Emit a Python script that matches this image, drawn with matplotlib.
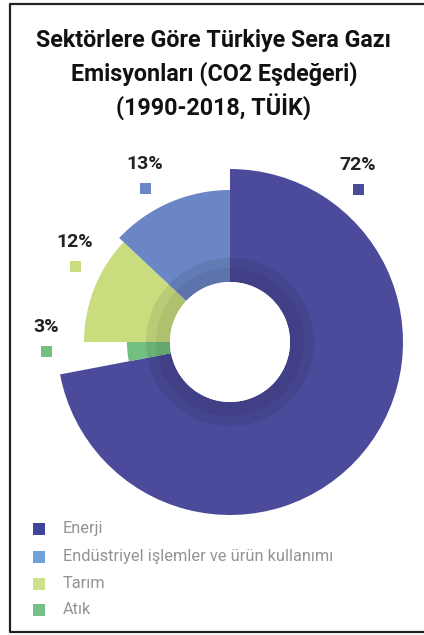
import matplotlib
matplotlib.use("Agg")
import matplotlib.pyplot as plt
from matplotlib.patches import Wedge, Rectangle, Circle

# ---- data ----
sectors = ["Enerji", "Endüstriyel işlemler ve ürün kullanımı", "Tarım", "Atık"]
shares = [72, 13, 12, 3]
pct_labels = ["72%", "13%", "12%", "3%"]
title_lines = ["Sektörlere Göre Türkiye Sera Gazı",
               "Emisyonları (CO2 Eşdeğeri)",
               "(1990-2018, TÜİK)"]

# ---- style / layout ----
colors = ["#4b4a9b", "#6a86c5", "#c9dd7f", "#72bf80"]
legend_colors = ["#3f4699", "#6ea3d9", "#cfe08a", "#77c08a"]
outer_r = [173, 152, 146, 103]
hole_r = 60
W, H = 424, 635
cx, cy = 230, H - 342
label_pos = [(358, 165), (145, 164), (75, 242), (46, 327)]
title_y = [41, 74, 107]
order_cw = [0, 3, 2, 1]  # clockwise from 12 o'clock: Enerji, Atık, Tarım, Endüstriyel
tfam = ["Roboto", "DejaVu Sans"]

fig = plt.figure(figsize=(W / 100, H / 100), dpi=100)
ax = fig.add_axes([0, 0, 1, 1])
ax.set_xlim(0, W)
ax.set_ylim(0, H)
ax.set_aspect("equal")
ax.axis("off")

# frame
ax.plot([W + 5, 9.5, 9.5, W + 5], [H - 4, H - 4, H - 632, H - 632],
        color="#222222", lw=1.6, clip_on=False)

# wedges, clockwise starting at 12 o'clock
total = sum(shares)
start = 90.0
for i in order_cw:
    sweep = 360.0 * shares[i] / total
    t2 = start
    t1 = start - sweep
    ax.add_patch(Wedge((cx, cy), outer_r[i], t1, t2, width=outer_r[i] - hole_r,
                       facecolor=colors[i], edgecolor="none"))
    start = t1

# inner shadow ring
ax.add_patch(Wedge((cx, cy), 84, 0, 360, width=84 - hole_r,
                   facecolor="black", alpha=0.08, edgecolor="none"))
ax.add_patch(Wedge((cx, cy), 74, 0, 360, width=74 - hole_r,
                   facecolor="black", alpha=0.05, edgecolor="none"))
ax.add_patch(Circle((cx, cy), hole_r, facecolor="white", edgecolor="none"))

# title (auto-fit to reference width)
tts = []
for line, ty in zip(title_lines, title_y):
    tts.append(ax.text(W / 2 + 2, H - ty, line, ha="center", va="center", fontsize=19,
                       family=tfam, fontweight="bold", color="#111111"))
fig.canvas.draw()
wpx = tts[0].get_window_extent().width
if wpx > 356:
    for tt in tts:
        tt.set_fontsize(19 * 356 / wpx)

# percentage labels with small squares
for i, (lx, ly) in enumerate(label_pos):
    ax.text(lx, H - ly, pct_labels[i], ha="center", va="center", fontsize=14,
            family=tfam, fontweight="bold", color="#222222")
    ax.add_patch(Rectangle((lx - 5.5, H - (ly + 24) - 5.5), 11, 11,
                           facecolor=colors[i], edgecolor="none"))

# legend
leg_y = [529, 557, 584, 610]
for i, name in enumerate(sectors):
    y = H - leg_y[i]
    ax.add_patch(Rectangle((33, y - 6), 12, 12, facecolor=legend_colors[i], edgecolor="none"))
    ax.text(63, y, name, ha="left", va="center", fontsize=11.8, color="#939393",
            family=["Roboto", "DejaVu Sans"])

fig.savefig("out.png", dpi=100)
